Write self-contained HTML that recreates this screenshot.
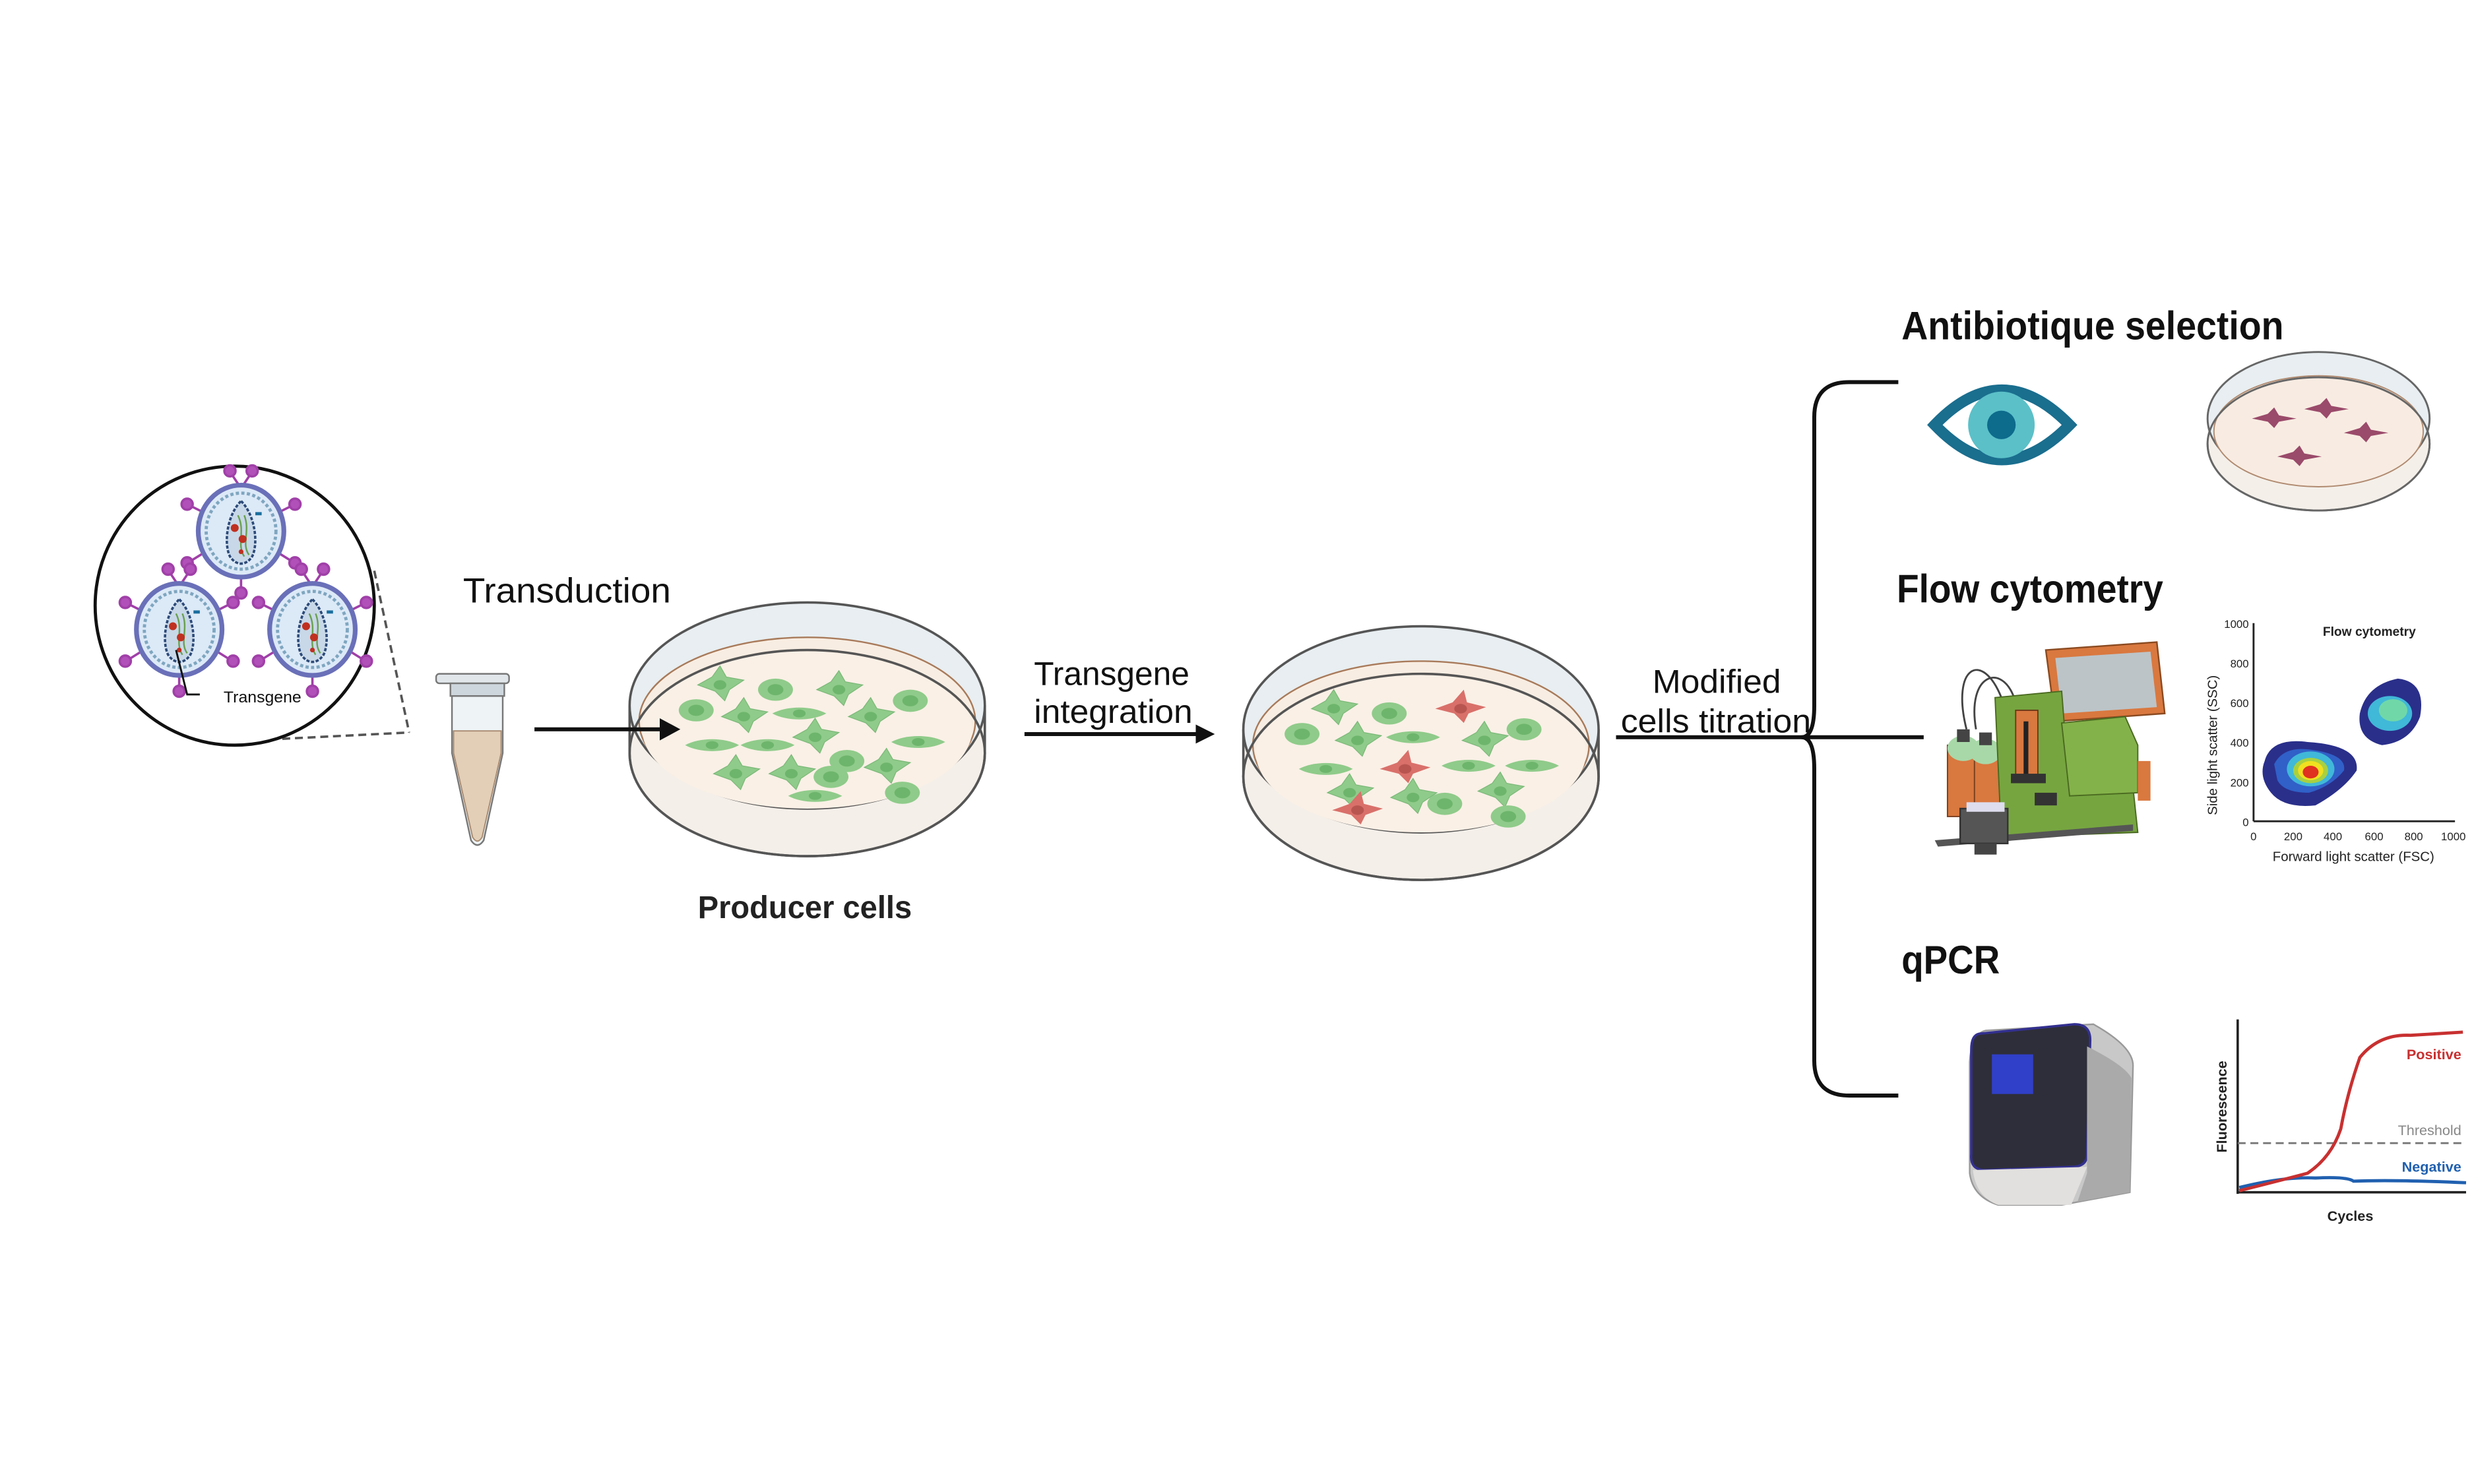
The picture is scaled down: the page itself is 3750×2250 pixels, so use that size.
<!DOCTYPE html>
<html><head><meta charset="utf-8"><style>html,body{margin:0;padding:0;background:#fff}svg{display:block}</style></head>
<body>
<svg width="3750" height="2250" viewBox="0 0 1560 936" xmlns="http://www.w3.org/2000/svg" font-family="Liberation Sans, sans-serif">
<rect width="1560" height="936" fill="#fff"/>
<defs>
<g id="virus">
  <g stroke="#a040a8" stroke-width="1.5" fill="#b050b8">
    <line x1="0" y1="-27" x2="-6" y2="-36"/><circle cx="-7" cy="-38" r="3.5"/>
    <line x1="0" y1="-27" x2="6" y2="-36"/><circle cx="7" cy="-38" r="3.5"/>
    <line x1="-24" y1="-12" x2="-32" y2="-16"/><circle cx="-34" cy="-17" r="3.5"/>
    <line x1="24" y1="-12" x2="32" y2="-16"/><circle cx="34" cy="-17" r="3.5"/>
    <line x1="-24" y1="14" x2="-32" y2="19"/><circle cx="-34" cy="20" r="3.5"/>
    <line x1="24" y1="14" x2="32" y2="19"/><circle cx="34" cy="20" r="3.5"/>
    <line x1="0" y1="28" x2="0" y2="37"/><circle cx="0" cy="39" r="3.5"/>
  </g>
  <ellipse cx="0" cy="0" rx="27" ry="29" fill="#dce9f7" stroke="#6a70b8" stroke-width="3"/>
  <ellipse cx="0" cy="0" rx="22" ry="24" fill="none" stroke="#7fa6c0" stroke-width="2" stroke-dasharray="2 1.5"/>
  <path d="M0,-19 C9,-10 11,8 7,16 C3,22 -3,22 -7,16 C-11,8 -9,-10 0,-19Z" fill="#c8d8e8" stroke="#2c4a78" stroke-width="1.5" stroke-dasharray="2 1"/>
  <path d="M-2,-10 C3,0 -3,8 2,16 M2,-10 C6,0 0,8 5,15" stroke="#6aa050" stroke-width="1" fill="none"/>
  <circle cx="-4" cy="-2" r="2.5" fill="#c03020"/><circle cx="1" cy="5" r="2.5" fill="#c03020"/><circle cx="0" cy="13" r="1.5" fill="#c03020"/>
  <rect x="9" y="-12" width="4" height="2" fill="#1a6e9e"/>
</g>
<g id="gcell">
  <path d="M-14,0 L-5,-5 L0,-12 L4,-5 L15,-3 L6,3 L3,10 L-3,4Z" fill="#8fcb8a" stroke="#7ab878" stroke-width="0.5"/>
  <ellipse cx="0" cy="0" rx="4" ry="3" fill="#6db56c"/>
</g>
<g id="gspin">
  <path d="M-17,0 C-8,-5 8,-5 17,0 C8,5 -8,5 -17,0Z" fill="#8fcb8a"/>
  <ellipse cx="0" cy="0" rx="4" ry="2.5" fill="#6db56c"/>
</g>
<g id="gcirc">
  <ellipse cx="0" cy="0" rx="11" ry="7" fill="#8fcb8a"/><ellipse cx="0" cy="0" rx="5" ry="3.5" fill="#6db56c"/>
</g>
<g id="rcell">
  <path d="M-16,0 L-5,-4 L2,-12 L4,-4 L16,-1 L5,3 L2,9 L-4,3Z" fill="#d9706a"/>
  <ellipse cx="0" cy="0" rx="4" ry="3" fill="#b85550"/>
</g>
<g id="pcell">
  <path d="M-14,0 L-4,-3 L0,-7 L3,-2 L14,0 L3,2 L0,6 L-4,2Z" fill="#9a4a6a"/>
</g>
</defs>

<!-- Zoom circle -->
<line x1="236" y1="360" x2="258" y2="462" stroke="#555" stroke-width="1.5" stroke-dasharray="5 3"/>
<line x1="178" y1="466" x2="258" y2="462" stroke="#555" stroke-width="1.5" stroke-dasharray="5 3"/>
<circle cx="148" cy="382" r="88" fill="#fff" stroke="#111" stroke-width="2"/>
<use href="#virus" x="152" y="335"/>
<use href="#virus" x="113" y="397"/>
<use href="#virus" x="197" y="397"/>
<path d="M111,410 L118,438 L126,438" stroke="#111" stroke-width="1.2" fill="none"/>
<text x="141" y="443" font-size="10" fill="#111" textLength="49" lengthAdjust="spacingAndGlyphs">Transgene</text>

<!-- Tube -->
<rect x="275" y="425" width="46" height="6" rx="2" fill="#e0e6ea" stroke="#777" stroke-width="1"/>
<rect x="284" y="431" width="34" height="8" fill="#cdd6dc" stroke="#777" stroke-width="1"/>
<path d="M285,439 L317,439 L317,475 L305,530 Q301,536 297,530 L285,475Z" fill="#eef3f5" stroke="#777" stroke-width="1"/>
<path d="M286,461 L316,461 L316,475 L304,528 Q301,533 298,528 L286,475Z" fill="#e3cfb8" stroke="#a88a70" stroke-width="0.8"/>

<text x="292" y="380" font-size="22" fill="#111" textLength="131" lengthAdjust="spacingAndGlyphs">Transduction</text>

<!-- Dish 1 -->
<g transform="translate(509,460)">
  <ellipse cx="0" cy="15" rx="112" ry="65" fill="#f4efe9" stroke="#555" stroke-width="1.5"/>
  <rect x="-112" y="-15" width="224" height="30" fill="#f4efe9"/>
  <line x1="-112" y1="-15" x2="-112" y2="15" stroke="#555" stroke-width="1.5"/>
  <line x1="112" y1="-15" x2="112" y2="15" stroke="#555" stroke-width="1.5"/>
  <ellipse cx="0" cy="-15" rx="112" ry="65" fill="#e8eef1" stroke="#555" stroke-width="1.5"/>
  <ellipse cx="0" cy="-5" rx="106" ry="53" fill="#f8ede2" stroke="#a87a5a" stroke-width="1"/>
  <ellipse cx="0" cy="0" rx="104" ry="50" fill="#faf0e6"/>
  <use href="#gcell" x="-55" y="-28"/><use href="#gcirc" x="-20" y="-25"/><use href="#gcell" x="20" y="-25"/>
  <use href="#gcell" x="-40" y="-8"/><use href="#gcirc" x="-70" y="-12"/><use href="#gspin" x="-5" y="-10"/>
  <use href="#gcell" x="40" y="-8"/><use href="#gcirc" x="65" y="-18"/><use href="#gspin" x="-60" y="10"/>
  <use href="#gcell" x="5" y="5"/><use href="#gspin" x="-25" y="10"/><use href="#gspin" x="70" y="8"/>
  <use href="#gcell" x="-45" y="28"/><use href="#gcell" x="-10" y="28"/><use href="#gcirc" x="25" y="20"/>
  <use href="#gcell" x="50" y="24"/><use href="#gcirc" x="60" y="40"/><use href="#gspin" x="5" y="42"/><use href="#gcirc" x="15" y="30"/>
  <ellipse cx="0" cy="15" rx="112" ry="65" fill="none" stroke="#555" stroke-width="1.5"/>
</g>
<line x1="337" y1="460" x2="418" y2="460" stroke="#111" stroke-width="2.5"/>
<polygon points="416,453 429,460 416,467" fill="#111"/>
<text x="440" y="579" font-size="20" font-weight="bold" fill="#222" textLength="135" lengthAdjust="spacingAndGlyphs">Producer cells</text>

<text x="652" y="432" font-size="21" fill="#111" textLength="98" lengthAdjust="spacingAndGlyphs">Transgene</text>
<text x="652" y="456" font-size="21" fill="#111" textLength="100" lengthAdjust="spacingAndGlyphs">integration</text>
<line x1="646" y1="463" x2="756" y2="463" stroke="#111" stroke-width="2.5"/>
<polygon points="754,457 766,463 754,469" fill="#111"/>

<!-- Dish 2 -->
<g transform="translate(896,475)">
  <ellipse cx="0" cy="15" rx="112" ry="65" fill="#f4efe9" stroke="#555" stroke-width="1.5"/>
  <rect x="-112" y="-15" width="224" height="30" fill="#f4efe9"/>
  <line x1="-112" y1="-15" x2="-112" y2="15" stroke="#555" stroke-width="1.5"/>
  <line x1="112" y1="-15" x2="112" y2="15" stroke="#555" stroke-width="1.5"/>
  <ellipse cx="0" cy="-15" rx="112" ry="65" fill="#e8eef1" stroke="#555" stroke-width="1.5"/>
  <ellipse cx="0" cy="-5" rx="106" ry="53" fill="#f8ede2" stroke="#a87a5a" stroke-width="1"/>
  <ellipse cx="0" cy="0" rx="104" ry="50" fill="#faf0e6"/>
  <use href="#gcell" x="-55" y="-28"/><use href="#gcirc" x="-20" y="-25"/><use href="#rcell" x="25" y="-28"/>
  <use href="#gcell" x="-40" y="-8"/><use href="#gcirc" x="-75" y="-12"/><use href="#gspin" x="-5" y="-10"/>
  <use href="#gcell" x="40" y="-8"/><use href="#gcirc" x="65" y="-15"/><use href="#gspin" x="-60" y="10"/>
  <use href="#rcell" x="-10" y="10"/><use href="#gspin" x="30" y="8"/><use href="#gspin" x="70" y="8"/>
  <use href="#gcell" x="-45" y="25"/><use href="#gcell" x="-5" y="28"/><use href="#gcirc" x="15" y="32"/>
  <use href="#gcell" x="50" y="24"/><use href="#rcell" x="-40" y="36"/><use href="#gcirc" x="55" y="40"/>
  <ellipse cx="0" cy="15" rx="112" ry="65" fill="none" stroke="#555" stroke-width="1.5"/>
</g>

<!-- Modified cells titration -->
<text x="1042" y="437" font-size="21" fill="#111" textLength="81" lengthAdjust="spacingAndGlyphs">Modified</text>
<text x="1022" y="462" font-size="21" fill="#111" textLength="120" lengthAdjust="spacingAndGlyphs">cells titration</text>
<line x1="1019" y1="465" x2="1213" y2="465" stroke="#111" stroke-width="2.5"/>
<path d="M1197,241 L1166,241 Q1144,241 1144,263 L1144,445 Q1144,465 1136,465 Q1144,465 1144,485 L1144,669 Q1144,691 1166,691 L1197,691" fill="none" stroke="#111" stroke-width="2.5"/>

<!-- Headings -->
<text x="1199" y="214" font-size="25" font-weight="bold" fill="#111" textLength="241" lengthAdjust="spacingAndGlyphs">Antibiotique selection</text>
<text x="1196" y="380" font-size="25" font-weight="bold" fill="#111" textLength="168" lengthAdjust="spacingAndGlyphs">Flow cytometry</text>
<text x="1199" y="614" font-size="25" font-weight="bold" fill="#111" textLength="62" lengthAdjust="spacingAndGlyphs">qPCR</text>

<!-- Eye -->
<path d="M1220,268 Q1262,224 1305,268 Q1262,312 1220,268Z" fill="#fff" stroke="#1a6e8e" stroke-width="7"/>
<circle cx="1262" cy="268" r="21" fill="#5bc0c8"/>
<circle cx="1262" cy="268" r="9" fill="#0d6b8c"/>

<!-- small dish -->
<g transform="translate(1462,272)">
  <ellipse cx="0" cy="8" rx="70" ry="42" fill="#f4efe9" stroke="#666" stroke-width="1.2"/>
  <rect x="-70" y="-8" width="140" height="16" fill="#f4efe9"/>
  <ellipse cx="0" cy="-8" rx="70" ry="42" fill="#e8eef1" stroke="#666" stroke-width="1.2"/>
  <ellipse cx="0" cy="0" rx="66" ry="35" fill="#f8ece2" stroke="#b08a70" stroke-width="0.8"/>
  <use href="#pcell" x="-28" y="-8"/><use href="#pcell" x="5" y="-14"/><use href="#pcell" x="30" y="1"/><use href="#pcell" x="-12" y="16"/>
  <ellipse cx="0" cy="8" rx="70" ry="42" fill="none" stroke="#666" stroke-width="1.2"/>
</g>

<!-- Flow cytometer -->
<g>
  <path d="M1240,460 C1230,420 1250,410 1262,440 M1246,460 C1240,425 1262,418 1270,440" stroke="#444" stroke-width="1.2" fill="none"/>
  <polygon points="1290,410 1360,405 1365,450 1296,455" fill="#d9783f" stroke="#8a4a20"/>
  <polygon points="1296,415 1356,411 1360,446 1300,450" fill="#bcc4c8"/>
  <rect x="1228" y="470" width="18" height="45" fill="#d9783f" stroke="#7a4020" stroke-width="0.8"/>
  <rect x="1245" y="472" width="16" height="45" fill="#d9783f" stroke="#7a4020" stroke-width="0.8"/>
  <ellipse cx="1238" cy="472" rx="10" ry="8" fill="#a8d8a8"/><ellipse cx="1252" cy="474" rx="10" ry="8" fill="#a8d8a8"/>
  <rect x="1234" y="460" width="8" height="8" fill="#444"/><rect x="1248" y="462" width="8" height="8" fill="#444"/>
  <polygon points="1258,440 1300,436 1305,500 1345,497 1348,525 1262,528" fill="#76a540" stroke="#4a6a20" stroke-width="0.8"/>
  <polygon points="1300,456 1340,452 1348,470 1348,500 1305,502" fill="#84b24a" stroke="#4a6a20" stroke-width="0.8"/>
  <rect x="1271" y="448" width="14" height="42" fill="#d9783f" stroke="#6a3a18" stroke-width="0.8"/>
  <rect x="1276" y="455" width="3" height="35" fill="#222"/>
  <rect x="1268" y="488" width="22" height="6" fill="#333"/>
  <rect x="1283" y="500" width="14" height="8" fill="#333"/>
  <rect x="1348" y="480" width="8" height="25" fill="#d9783f"/>
  <polygon points="1220,530 1345,520 1345,524 1222,534" fill="#555"/>
  <rect x="1236" y="510" width="30" height="22" fill="#555" stroke="#333"/>
  <rect x="1240" y="506" width="24" height="6" fill="#dde"/>
  <rect x="1245" y="532" width="14" height="7" fill="#444"/>
</g>

<!-- Flow plot -->
<g font-size="7" fill="#222">
  <line x1="1421" y1="393" x2="1421" y2="518" stroke="#222" stroke-width="1.2"/>
  <line x1="1421" y1="518" x2="1548" y2="518" stroke="#222" stroke-width="1.2"/>
  <text x="1418" y="396" text-anchor="end">1000</text><text x="1418" y="421" text-anchor="end">800</text>
  <text x="1418" y="446" text-anchor="end">600</text><text x="1418" y="471" text-anchor="end">400</text>
  <text x="1418" y="496" text-anchor="end">200</text><text x="1418" y="521" text-anchor="end">0</text>
  <text x="1421" y="530" text-anchor="middle">0</text><text x="1446" y="530" text-anchor="middle">200</text>
  <text x="1471" y="530" text-anchor="middle">400</text><text x="1497" y="530" text-anchor="middle">600</text>
  <text x="1522" y="530" text-anchor="middle">800</text><text x="1547" y="530" text-anchor="middle">1000</text>
  <text x="1484" y="543" font-size="8.5" text-anchor="middle">Forward light scatter (FSC)</text>
  <text transform="translate(1398,470) rotate(-90)" font-size="8.5" text-anchor="middle">Side light scatter (SSC)</text>
  <text x="1494" y="401" font-size="8" font-weight="bold" text-anchor="middle">Flow cytometry</text>
  <path d="M1428,480 Q1432,465 1455,468 Q1488,470 1486,486 Q1478,498 1460,508 Q1440,510 1432,500 Q1424,490 1428,480Z" fill="#2a2f8a"/>
  <path d="M1434,482 Q1440,470 1458,473 Q1480,476 1478,486 Q1470,496 1456,500 Q1440,500 1436,492Z" fill="#3060c8"/>
  <ellipse cx="1457" cy="485" rx="15" ry="11" fill="#40b8d8"/>
  <ellipse cx="1457" cy="486" rx="11" ry="8" fill="#a8d040"/>
  <ellipse cx="1457" cy="486" rx="8" ry="6" fill="#f0e020"/>
  <ellipse cx="1457" cy="487" rx="5" ry="4" fill="#e03020"/>
  <path d="M1488,450 Q1492,432 1512,428 Q1530,430 1526,452 Q1520,468 1502,470 Q1486,466 1488,450Z" fill="#2a2f8a"/>
  <ellipse cx="1507" cy="450" rx="14" ry="11" fill="#40b8d8"/>
  <ellipse cx="1509" cy="448" rx="9" ry="7" fill="#70d8a8"/>
</g>

<!-- qPCR machine -->
<g>
  <path d="M1252,650 L1320,646 Q1345,660 1345,672 L1343,752 L1300,760 L1260,760 Q1244,755 1242,740 L1242,670 Q1243,652 1252,650Z" fill="#c8c8c8" stroke="#999"/>
  <path d="M1248,652 L1308,646 Q1318,646 1318,656 L1316,728 Q1316,736 1306,736 L1252,738 Q1242,738 1243,728 L1243,662 Q1243,653 1248,652Z" fill="#2e2e3a" stroke="#333090" stroke-width="1.5"/>
  <rect x="1256" y="665" width="26" height="25" fill="#3040c8"/>
  <path d="M1316,660 Q1340,672 1344,680 L1343,752 L1310,758 L1316,740Z" fill="#aaa"/>
  <path d="M1244,738 L1316,736 L1306,760 L1260,760 Q1246,755 1244,738Z" fill="#e2e0de"/>
</g>

<!-- qPCR plot -->
<g>
  <line x1="1411" y1="643" x2="1411" y2="753" stroke="#222" stroke-width="1.5"/>
  <line x1="1411" y1="752" x2="1555" y2="752" stroke="#222" stroke-width="1.5"/>
  <line x1="1411" y1="721" x2="1553" y2="721" stroke="#777" stroke-width="1.2" stroke-dasharray="5 3"/>
  <path d="M1412,749 Q1440,742 1460,743 Q1480,742 1484,745 Q1510,744 1555,746" stroke="#2060b0" stroke-width="2" fill="none"/>
  <path d="M1412,751 Q1440,744 1455,740 Q1470,730 1476,712 Q1480,690 1488,667 Q1500,652 1520,653 L1553,651" stroke="#c83030" stroke-width="2" fill="none"/>
  <text x="1552" y="668" font-size="9" font-weight="bold" fill="#c83030" text-anchor="end">Positive</text>
  <text x="1552" y="716" font-size="9" fill="#888" text-anchor="end">Threshold</text>
  <text x="1552" y="739" font-size="9" font-weight="bold" fill="#2060b0" text-anchor="end">Negative</text>
  <text x="1482" y="770" font-size="9" font-weight="bold" fill="#222" text-anchor="middle">Cycles</text>
  <text transform="translate(1404,698) rotate(-90)" font-size="9" font-weight="bold" fill="#222" text-anchor="middle">Fluorescence</text>
</g>
</svg>
</body></html>
